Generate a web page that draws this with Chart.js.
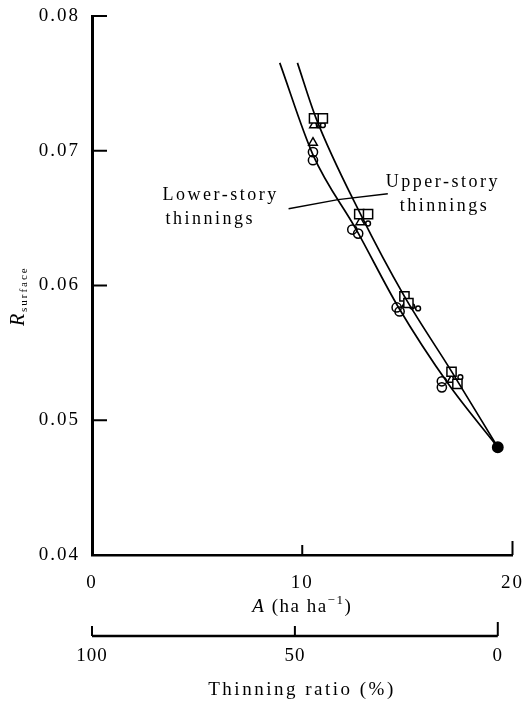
<!DOCTYPE html>
<html>
<head>
<meta charset="utf-8">
<script src="https://cdn.jsdelivr.net/npm/chart.js@4.4.0/dist/chart.umd.min.js"></script>
<style>
  body { margin: 0; background: white; }
  canvas { display: block; }
</style>
</head>
<body>
<canvas id="main-chart" width="531" height="704"></canvas>
<script>
// values: A (ha ha-1) against R_surface
var squareA = [10.56, 10.98, 12.71, 13.13, 14.86, 15.05, 17.1, 17.38];
var squareR = [0.0724, 0.0724, 0.0653, 0.0653, 0.0592, 0.0587, 0.0536, 0.0527];

var triangleA = [10.56, 10.51, 12.76, 14.95, 17.1];
var triangleR = [0.0719, 0.0706, 0.0647, 0.0586, 0.0530];

var circleA = [10.51, 10.51, 12.38, 12.66, 14.49, 14.63, 16.64, 16.64];
var circleR = [0.0699, 0.0693, 0.06415, 0.06385, 0.05837, 0.05807, 0.05289, 0.05244];

var smallCircleA = [10.79, 10.98, 13.13, 15.23, 15.51, 17.43, 17.52];
var smallCircleR = [0.0719, 0.0719, 0.0646, 0.05844, 0.0583, 0.05281, 0.05319];

// unthinned stand
var unthinnedA = [19.3];
var unthinnedR = [0.048];

// fitted curves
var lowerCurveA = [8.93, 10.51, 12.57, 14.58, 16.96, 19.3];
var lowerCurveR = [0.07652, 0.0697, 0.06415, 0.05837, 0.05267, 0.048];
var upperCurveA = [9.77, 10.65, 12.76, 14.86, 17.1, 19.3];
var upperCurveR = [0.07652, 0.07244, 0.06533, 0.05919, 0.05363, 0.048];

// leader lines for the two curve labels
var lowerLeaderA = [9.35, 11.7];
var lowerLeaderR = [0.0657, 0.06637];
var upperLeaderA = [11.7, 14.07];
var upperLeaderR = [0.06637, 0.06681];

var xTicks = [0, 10, 20];
var yTicks = [0.04, 0.05, 0.06, 0.07, 0.08];
var thinningTicks = [100, 50, 0];

function pts(a, r) {
  return a.map(function (v, i) {
    return { x: v, y: r[i] };
  });
}

var serif = "'Liberation Serif', 'DejaVu Serif', serif";

function marker(label, a, r, style, radius, fill) {
  return {
    type: "scatter",
    label: label,
    data: pts(a, r),
    pointStyle: style,
    pointRadius: radius,
    pointBorderColor: "black",
    pointBackgroundColor: fill,
    pointBorderWidth: 1.5,
    showLine: false,
  };
}

function curve(label, a, r, width, smooth) {
  return {
    type: "line",
    label: label,
    data: pts(a, r),
    borderColor: "black",
    borderWidth: width,
    pointRadius: 0,
    fill: false,
    cubicInterpolationMode: smooth ? "monotone" : "default",
    tension: 0,
  };
}

var decor = {
  id: "decor",
  beforeDraw: function (chart) {
    chart.ctx.letterSpacing = "2px";
  },
  afterDraw: function (chart) {
    var c = chart.ctx;
    var x = chart.scales.x;
    var y = chart.scales.y;
    var area = chart.chartArea;
    c.save();
    c.strokeStyle = "black";
    c.fillStyle = "black";
    c.lineWidth = 2;

    // inward tick marks
    yTicks.slice(1).forEach(function (v) {
      var py = y.getPixelForValue(v);
      c.beginPath();
      c.moveTo(area.left, py);
      c.lineTo(area.left + 15, py);
      c.stroke();
    });
    xTicks.slice(1).forEach(function (v) {
      var px = x.getPixelForValue(v);
      c.beginPath();
      c.moveTo(px, area.bottom);
      c.lineTo(px, area.bottom - (v == 20 ? 14 : 10));
      c.stroke();
    });

    // thinning ratio axis, 0 % = unthinned stand
    var ty = 636;
    var a0 = unthinnedA[0];
    c.lineWidth = 2.5;
    c.beginPath();
    c.moveTo(x.getPixelForValue(0), ty);
    c.lineTo(x.getPixelForValue(a0), ty);
    c.stroke();
    c.lineWidth = 2;
    c.font = "19px " + serif;
    c.letterSpacing = "1px";
    c.textAlign = "center";
    c.textBaseline = "middle";
    thinningTicks.forEach(function (t) {
      var px = x.getPixelForValue(a0 * (1 - t / 100));
      c.beginPath();
      c.moveTo(px, ty);
      c.lineTo(px, ty - (t == 0 ? 14 : 10));
      c.stroke();
      c.fillText(String(t), px, ty + 20);
    });

    // x title: A (ha ha-1)
    c.letterSpacing = "1.5px";
    var cx = x.getPixelForValue(10);
    c.font = "italic 19px " + serif;
    var w1 = c.measureText("A ").width;
    c.font = "19px " + serif;
    var w2 = c.measureText("(ha ha").width;
    c.font = "13px " + serif;
    var w3 = c.measureText("\u22121").width;
    c.font = "19px " + serif;
    var w4 = c.measureText(")").width;
    var sx = cx - (w1 + w2 + w3 + w4) / 2;
    c.textAlign = "left";
    c.textBaseline = "alphabetic";
    c.font = "italic 19px " + serif;
    c.fillText("A ", sx, 612);
    c.font = "19px " + serif;
    c.fillText("(ha ha", sx + w1, 612);
    c.font = "13px " + serif;
    c.fillText("\u22121", sx + w1 + w2, 604);
    c.font = "19px " + serif;
    c.fillText(")", sx + w1 + w2 + w3, 612);

    // thinning title
    c.textAlign = "center";
    c.letterSpacing = "2.5px";
    c.fillText("Thinning ratio (%)", 302, 695);

    // y title: R_surface
    c.save();
    c.translate(24, 300);
    c.rotate(-Math.PI / 2);
    c.textAlign = "left";
    c.letterSpacing = "0px";
    c.font = "italic 20px " + serif;
    c.fillText("R", -26, 0);
    c.font = "11px " + serif;
    c.letterSpacing = "2px";
    c.fillText("surface", -12, 3);
    c.restore();

    // curve labels
    c.font = "18px " + serif;
    c.letterSpacing = "2.5px";
    c.textAlign = "left";
    c.textBaseline = "middle";
    var lx = x.getPixelForValue(lowerLeaderA[0]);
    var lyy = y.getPixelForValue(lowerLeaderR[0]);
    c.fillText("Lower-story", lx - 126, lyy - 13);
    c.fillText("thinnings", lx - 123, lyy + 11);
    var ux = x.getPixelForValue(upperLeaderA[1]);
    var uy = y.getPixelForValue(upperLeaderR[1]);
    c.fillText("Upper-story", ux - 2, uy - 11);
    c.fillText("thinnings", ux + 12, uy + 13);

    c.restore();
  },
};

var ctx = document.getElementById("main-chart");
var chart = new Chart(ctx, {
  data: {
    datasets: [
      curve("Lower-story thinnings", lowerCurveA, lowerCurveR, 1.7, true),
      curve("Upper-story thinnings", upperCurveA, upperCurveR, 1.7, true),
      curve("lower leader", lowerLeaderA, lowerLeaderR, 1.4, false),
      curve("upper leader", upperLeaderA, upperLeaderR, 1.4, false),
      marker("square", squareA, squareR, "rect", 6.5, "white"),
      marker("triangle", triangleA, triangleR, "triangle", 5, "rgba(0,0,0,0)"),
      marker("circle", circleA, circleR, "circle", 4.6, "rgba(0,0,0,0)"),
      marker("small circle", smallCircleA, smallCircleR, "circle", 2.4, "white"),
      marker("unthinned", unthinnedA, unthinnedR, "circle", 5.2, "black"),
    ],
  },
  options: {
    responsive: false,
    animation: false,
    events: [],
    layout: {
      autoPadding: false,
      padding: { top: 16, right: 11, left: 0, bottom: 0 },
    },
    plugins: {
      legend: { display: false },
      tooltip: { enabled: false },
      title: { display: false },
    },
    scales: {
      x: {
        type: "linear",
        min: 0,
        max: 20,
        afterFit: function (s) {
          s.height = 149;
        },
        afterBuildTicks: function (s) {
          s.ticks = xTicks.map(function (v) {
            return { value: v };
          });
        },
        grid: { display: false },
        border: { display: true, color: "black", width: 2.5 },
        ticks: {
          color: "black",
          padding: 9,
          maxRotation: 0,
          font: { family: serif, size: 19 },
        },
      },
      y: {
        type: "linear",
        min: 0.04,
        max: 0.08,
        afterFit: function (s) {
          s.width = 92;
        },
        afterBuildTicks: function (s) {
          s.ticks = yTicks.map(function (v) {
            return { value: v };
          });
        },
        grid: { display: false },
        border: { display: true, color: "black", width: 3 },
        ticks: {
          color: "black",
          padding: 4,
          font: { family: serif, size: 19 },
          callback: function (v) {
            return Number(v).toFixed(2);
          },
        },
      },
    },
  },
  plugins: [decor],
});
</script>
</body>
</html>
